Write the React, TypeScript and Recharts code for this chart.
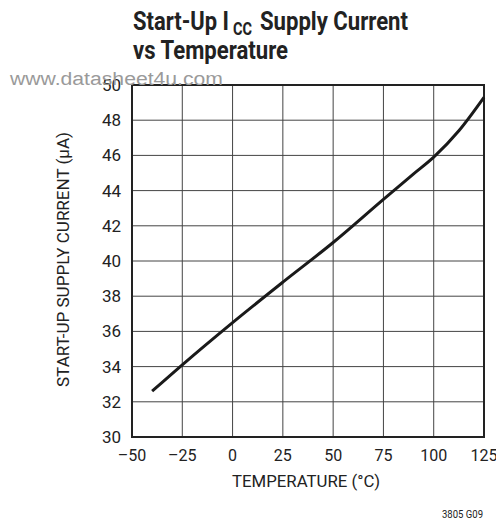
import { LineChart, Line, XAxis, YAxis, CartesianGrid, ReferenceArea } from 'recharts'

const temps = [-40, -25, 0, 25, 50, 75, 90, 100, 112.5, 125]
const currents = [32.6, 34.1, 36.5, 38.8, 41.05, 43.5, 44.95, 45.9, 47.4, 49.3]
const xTicks = [-50, -25, 0, 25, 50, 75, 100, 125]
const yTicks = [30, 32, 34, 36, 38, 40, 42, 44, 46, 48, 50]

const data = temps.map((t, i) => ({ t, i: currents[i] }))

const font = 'Roboto, "Liberation Sans", sans-serif'
const fmtX = (v: number) => (v < 0 ? `\u2013${Math.abs(v)}` : `${v}`)

export default function App() {
  const title = { fontFamily: font, fontWeight: 'bold' as const, fill: '#222', lengthAdjust: 'spacingAndGlyphs' }
  return (
    <div style={{ position: 'absolute', left: 0, top: 0, width: 496, height: 521, background: '#fff' }}>
      <LineChart width={496} height={521} data={data} margin={{ top: 85, right: 12, bottom: 54, left: 0 }}>
        <CartesianGrid stroke="#444" strokeWidth={1} />
        <XAxis
          dataKey="t" type="number" domain={[-50, 125]} ticks={xTicks} tickFormatter={fmtX}
          axisLine={false} tickLine={false} interval={0} height={30}
          tick={{ fontSize: 16, fill: '#222', fontFamily: font }} tickMargin={7}
        />
        <YAxis
          type="number" domain={[30, 50]} ticks={yTicks} width={132} interval={0}
          axisLine={false} tickLine={false} tickMargin={5}
          tick={{ fontSize: 17, fill: '#222', fontFamily: font }}
        />
        <ReferenceArea x1={-50} x2={125} y1={30} y2={50} fill="none" stroke="#222" strokeWidth={2} ifOverflow="visible" />
        <Line type="monotone" dataKey="i" stroke="#1a1a1a" strokeWidth={3} dot={false} isAnimationActive={false} />
      </LineChart>
      <svg width={496} height={521} style={{ position: 'absolute', left: 0, top: 0, pointerEvents: 'none' }}>
        <text x={133} y={30} fontSize={25} textLength={96} {...title}>Start-Up I</text>
        <text x={233} y={35} fontSize={18} textLength={19} {...title}>CC</text>
        <text x={260} y={30} fontSize={25} textLength={148} {...title}>Supply Current</text>
        <text x={133} y={59} fontSize={25} textLength={155} {...title}>vs Temperature</text>
        <text x={10} y={85} fontFamily='"Liberation Sans", Arial, sans-serif' fontSize={18} fill="#9a9a9a" textLength={213} lengthAdjust="spacingAndGlyphs">
          www.datasheet4u.com
        </text>
        <text x={0} y={0} transform="translate(69 259.5) rotate(-90)" textAnchor="middle" fontFamily={font} fontSize={17} fill="#222" textLength={255} lengthAdjust="spacingAndGlyphs">
          START-UP SUPPLY CURRENT (µA)
        </text>
        <text x={306} y={487} textAnchor="middle" fontFamily={font} fontSize={17} fill="#222" textLength={148} lengthAdjust="spacingAndGlyphs">
          TEMPERATURE (°C)
        </text>
        <text x={483} y={518} textAnchor="end" fontFamily={font} fontSize={11} fill="#222" textLength={41} lengthAdjust="spacingAndGlyphs">
          3805 G09
        </text>
      </svg>
    </div>
  )
}
